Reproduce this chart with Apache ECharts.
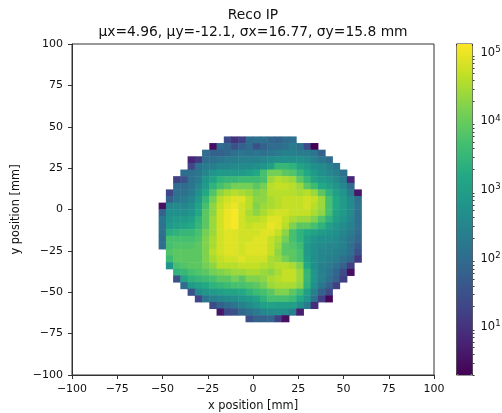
<!DOCTYPE html>
<html><head><meta charset="utf-8">
<style>html,body{margin:0;padding:0;background:#fff}#c{width:502px;height:413px}</style>
<script src="https://cdn.jsdelivr.net/npm/echarts@6/dist/echarts.min.js"></script>
</head><body><div id="c"></div>
<script>
// Counts per 4 mm x 4 mm bin, given as 10*log10(count); rows run from top (y=44) downward.
const rowStartCol = [9,7,6,4,4,3,2,2,1,1,0,0,0,0,0,0,0,1,1,1,2,2,3,4,5,7,8,12];
const rowValues = [
[14,10,12,20,21,21,19,18,20,21],
[5,20,19,15,18,20,15,18,20,20,21,23,21,14,3],
[20,18,18,19,21,22,21,22,21,22,23,24,24,23,23,22,18],
[8,11,20,21,22,23,23,24,24,24,25,26,27,27,27,27,26,24,22,20],
[13,21,23,23,25,25,26,26,26,27,28,30,35,35,34,31,29,27,26,24,22],
[20,21,22,25,28,29,29,29,29,30,32,37,41,41,39,38,35,32,29,27,25,24,21],
[12,15,21,23,28,31,34,35,35,36,36,36,37,44,46,45,44,39,35,31,29,28,26,23,8],
[20,20,22,25,29,34,37,39,41,41,41,39,41,46,47,47,46,44,39,36,32,30,28,25,20],
[13,21,21,23,27,32,38,43,45,46,45,44,42,43,46,46,46,46,45,46,44,39,34,30,28,23,6],
[18,22,23,25,29,35,41,46,48,49,49,46,43,43,45,46,47,47,47,48,47,44,37,32,29,26,21],
[5,25,26,25,27,31,37,43,47,49,50,48,46,42,44,45,46,47,47,47,48,46,44,37,32,29,26,22],
[18,27,27,27,28,32,39,43,48,50,51,48,45,43,45,47,48,48,47,47,47,45,43,37,31,29,26,21],
[22,28,29,29,30,34,39,44,48,50,51,48,46,46,47,49,49,47,45,44,44,42,38,34,30,28,25,21],
[21,29,30,31,32,35,39,44,48,50,51,48,47,48,48,50,49,46,42,39,39,37,34,30,28,26,24,21],
[21,33,34,35,35,37,41,44,48,49,49,48,48,48,49,49,47,43,37,34,32,31,29,28,27,25,23,20],
[20,37,37,37,37,38,42,45,48,49,49,48,48,49,49,47,45,41,37,34,30,28,27,27,26,24,22,19],
[20,37,38,38,38,39,42,45,48,49,49,48,49,49,49,47,44,39,38,36,29,27,26,25,25,24,21,17],
[38,39,39,39,39,42,46,48,49,49,48,49,49,49,47,43,39,39,37,29,27,25,25,24,23,21,15],
[36,39,39,39,39,42,45,47,48,48,49,48,48,48,45,44,41,39,37,30,27,25,24,23,21,19,11],
[28,37,38,39,39,41,43,46,46,46,47,47,47,46,45,46,46,45,42,32,27,24,23,21,18,12],
[34,35,37,38,39,41,42,43,44,44,45,45,44,43,45,47,47,44,35,28,24,22,19,14,5],
[15,31,34,35,36,37,39,39,41,39,42,42,43,45,46,47,47,44,35,28,24,21,18,12],
[20,29,31,32,34,35,36,37,37,38,39,41,44,45,45,45,43,34,27,22,18,12],
[15,26,28,29,30,31,31,32,34,36,37,39,42,42,39,36,30,24,18,14],
[13,22,24,25,26,27,28,29,31,34,37,37,37,36,32,28,21,12,4],
[14,18,20,22,24,26,28,30,31,30,30,30,27,23,9],
[6,14,15,19,21,23,25,26,27,26,24,7],
[15,18,18,19,12,5]
];
const viridis = ['#440154','#482475','#414487','#355f8d','#2a788e','#21918c','#22a884','#44bf70','#7ad151','#bddf26','#fde725'];
const colorMin = 3.01, colorMax = 51.3;
const decadeTicks = [10,20,30,40,50];
const minorTicks = [];
[0,1,2,3,4,5].forEach(d=>[2,3,4,5,6,7,8,9].forEach(n=>{
  const v = 10*(d+Math.log10(n));
  if (v>=colorMin && v<=colorMax) minorTicks.push(v);
}));

const binLabels = Array.from({length:50},(_,i)=>String(-100+4*i));
const cells = [];
rowValues.forEach((row,k)=>row.forEach((v,j)=>{
  cells.push([12+rowStartCol[k]+j, 35-k, v]);
}));

const font = 'DejaVu Sans';
const ink = '#333';
const G = {left:72, top:44, width:362, height:331};
const CB = {left:456.5, top:44, width:16, height:331};
const chart = echarts.init(document.getElementById('c'),null,{renderer:'canvas'});
const minus = v => String(v).replace('-','\u2212');
const valAxis = (extra)=>Object.assign({
  type:'value', min:-100, max:100, interval:25, gridIndex:0,
  nameLocation:'middle',
  nameTextStyle:{fontFamily:font,fontSize:11.4,color:'#111'},
  axisLine:{show:true,onZero:false,lineStyle:{color:ink,width:1}},
  axisTick:{show:true,length:4,inside:false,lineStyle:{color:ink,width:1}},
  axisLabel:{fontFamily:font,fontSize:11,color:'#111',margin:9,formatter:minus},
  splitLine:{show:false}
},extra);
chart.setOption({
  animation:false,
  backgroundColor:'#fff',
  title:{left:253,top:7,padding:0,textAlign:'center',text:'Reco IP\n\u03bcx=4.96, \u03bcy=-12.1, \u03c3x=16.77, \u03c3y=15.8 mm',
    textStyle:{fontFamily:font,fontSize:13.85,fontWeight:'normal',color:'#111',lineHeight:17}},
  grid:[
    Object.assign({show:true,borderColor:ink,borderWidth:1,backgroundColor:'transparent',containLabel:false,outerBoundsMode:'none'},G),
    Object.assign({show:true,borderColor:ink,borderWidth:1,backgroundColor:'transparent',containLabel:false,outerBoundsMode:'none'},CB)
  ],
  xAxis:[
    valAxis({position:'bottom',name:'x position [mm]',nameGap:26}),
    {type:'category',gridIndex:0,data:binLabels,show:false},
    {type:'value',gridIndex:1,show:false,min:0,max:1}
  ],
  yAxis:[
    valAxis({position:'left',name:'y position [mm]',nameGap:39}),
    {type:'category',gridIndex:0,data:binLabels,show:false},
    {type:'value',gridIndex:1,min:colorMin,max:colorMax,position:'right',
      axisLine:{show:false},splitLine:{show:false},
      axisTick:{show:true,length:4,lineStyle:{color:ink,width:1},customValues:decadeTicks},
      axisLabel:{show:true,margin:8,customValues:decadeTicks,fontFamily:font,fontSize:11.5,color:'#111',
        formatter:v=>'10{s|'+Math.round(v/10)+'}',
        rich:{s:{fontFamily:font,fontSize:8.5,color:'#111',padding:[0,0,6,0]}}}},
    {type:'value',gridIndex:1,min:colorMin,max:colorMax,position:'right',
      axisLine:{show:false},splitLine:{show:false},axisLabel:{show:false},
      axisTick:{show:true,length:2,lineStyle:{color:ink,width:1},customValues:minorTicks}}
  ],
  visualMap:{type:'continuous',seriesIndex:0,dimension:2,min:colorMin,max:colorMax,show:true,
    left:CB.left,top:CB.top,itemWidth:CB.width,itemHeight:CB.height,padding:0,text:null,calculable:false,
    hoverLink:false,inRange:{color:viridis}},
  series:[
    {type:'heatmap',xAxisIndex:1,yAxisIndex:1,data:cells,progressive:0,emphasis:{disabled:true},z:1}
  ]
});
</script></body></html>
